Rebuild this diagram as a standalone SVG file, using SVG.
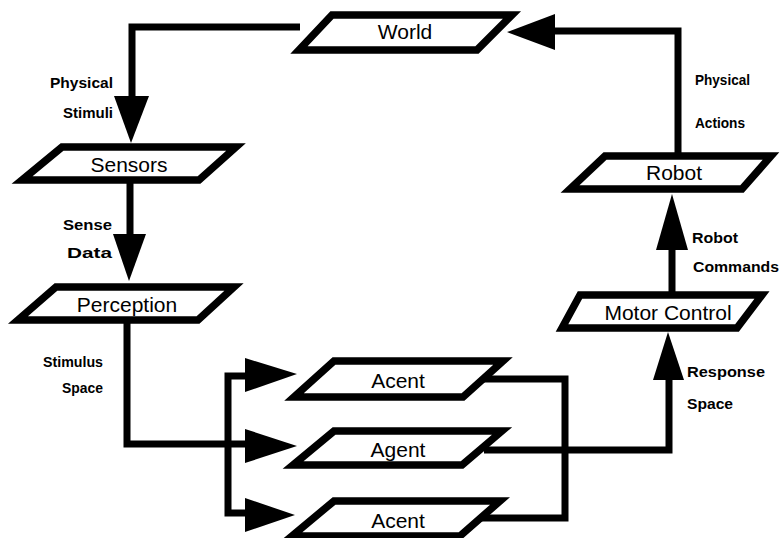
<svg xmlns="http://www.w3.org/2000/svg" width="781" height="538" viewBox="0 0 781 538">
<style>
.box{fill:#fff;stroke:#000;stroke-width:7.5;stroke-linejoin:miter;stroke-miterlimit:10}
.nt{font-family:"Liberation Sans",Arial,sans-serif;font-size:21px;text-anchor:middle;fill:#000}
.lb{font-family:"Liberation Sans",Arial,sans-serif;font-size:15px;font-weight:bold;fill:#000}
.r{text-anchor:end}
.ln{fill:none;stroke:#000;stroke-width:7;stroke-linejoin:miter;stroke-linecap:butt}
.ah{fill:#000;stroke:none}
</style>
<rect width="781" height="538" fill="#fff"/>
<g id="connectors">
  <path class="ln" d="M300 27 H132 V100"/>
  <polygon class="ah" points="114,96 149,96 131,143"/>
  <path class="ln" d="M130 180 V238"/>
  <polygon class="ah" points="113,234 146,234 129,281"/>
  <path class="ln" d="M127 320 V444 H248"/>
  <polygon class="ah" points="245,429 245,463 297,446"/>
  <path class="ln" d="M248 376 H228 V513 H248"/>
  <polygon class="ah" points="245,358 245,392 297,374"/>
  <polygon class="ah" points="245,498 245,532 295,515"/>
  <path class="ln" d="M484 379 H565 V518 H478"/>
  <path class="ln" d="M484 450 H669 V376"/>
  <polygon class="ah" points="653,380 684,380 668,332"/>
  <path class="ln" d="M672 295 V247"/>
  <polygon class="ah" points="656,250 688,250 672,194"/>
  <path class="ln" d="M678 157 V31 H552"/>
  <polygon class="ah" points="555,14 555,50 507,32"/>
</g>
<g id="world">
  <polygon class="box" points="332,15 512,15 477,50 299,50"/>
  <text class="nt" x="405" y="39">World</text>
</g>
<g id="sensors">
  <polygon class="box" points="62,147 236,147 199,180 22,180"/>
  <text class="nt" x="129" y="172">Sensors</text>
</g>
<g id="perception">
  <polygon class="box" points="56,287 234,287 198,320 18,320"/>
  <text class="nt" x="127" y="312">Perception</text>
</g>
<g id="robot">
  <polygon class="box" points="605,156 771,156 742,189 570,189"/>
  <text class="nt" x="674" y="180">Robot</text>
</g>
<g id="motor-control">
  <polygon class="box" points="580,295 762,295 737,328 562,328"/>
  <text class="nt" x="668" y="320">Motor Control</text>
</g>
<g id="agent1">
  <polygon class="box" points="334,361 503,361 463,397 294,397"/>
  <text class="nt" x="398" y="388">Acent</text>
</g>
<g id="agent2">
  <polygon class="box" points="334,431 502,431 462,465 293,465"/>
  <text class="nt" x="398" y="457">Agent</text>
</g>
<g id="agent3">
  <polygon class="box" points="334,501 500,501 460,536 292,536"/>
  <text class="nt" x="398" y="528">Acent</text>
</g>
<g id="labels">
  <text class="lb r" x="113" y="88" textLength="63" lengthAdjust="spacingAndGlyphs">Physical</text>
  <text class="lb r" x="113" y="118" textLength="50" lengthAdjust="spacingAndGlyphs">Stimuli</text>
  <text class="lb r" x="112" y="230" textLength="49" lengthAdjust="spacingAndGlyphs">Sense</text>
  <text class="lb r" x="112" y="258" textLength="45" lengthAdjust="spacingAndGlyphs">Data</text>
  <text class="lb r" x="103" y="367" textLength="60" lengthAdjust="spacingAndGlyphs">Stimulus</text>
  <text class="lb r" x="103" y="393" textLength="41" lengthAdjust="spacingAndGlyphs">Space</text>
  <text class="lb" x="695" y="85" textLength="55" lengthAdjust="spacingAndGlyphs">Physical</text>
  <text class="lb" x="695" y="128" textLength="50" lengthAdjust="spacingAndGlyphs">Actions</text>
  <text class="lb" x="692" y="243" textLength="46" lengthAdjust="spacingAndGlyphs">Robot</text>
  <text class="lb" x="693" y="272" textLength="86" lengthAdjust="spacingAndGlyphs">Commands</text>
  <text class="lb" x="687" y="377" textLength="78" lengthAdjust="spacingAndGlyphs">Response</text>
  <text class="lb" x="687" y="409" textLength="46" lengthAdjust="spacingAndGlyphs">Space</text>
</g>
</svg>
